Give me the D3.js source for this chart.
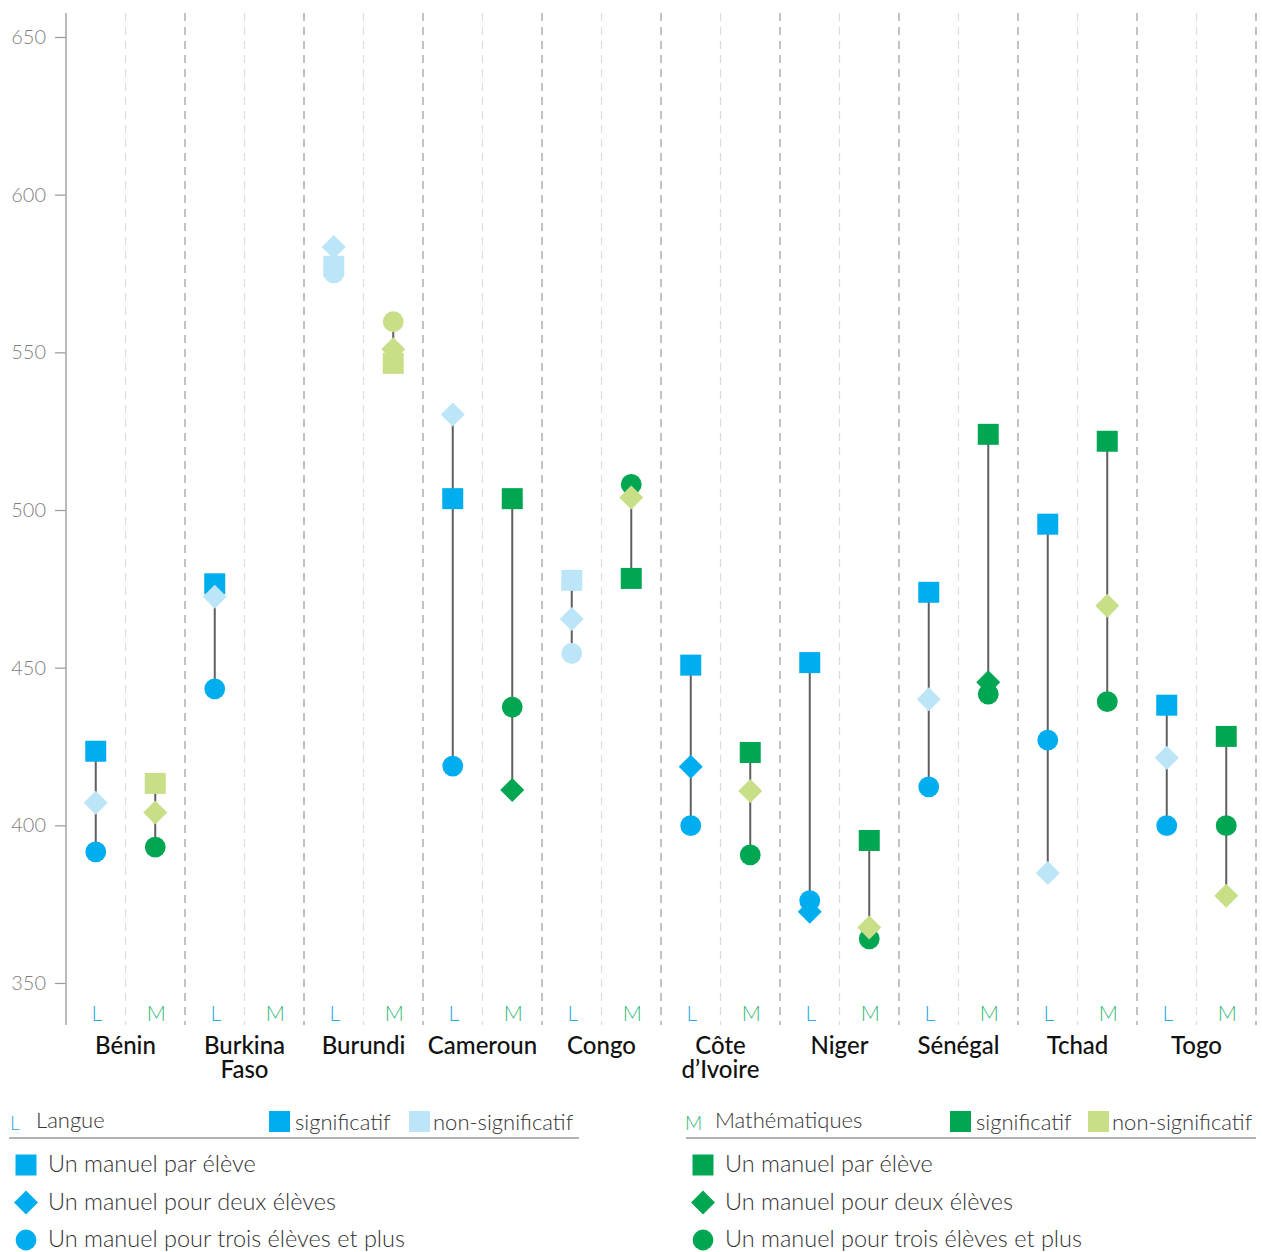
<!DOCTYPE html>
<html>
<head>
<meta charset="utf-8">
<script src="https://cdn.jsdelivr.net/npm/d3@7"></script>
<style>
  body { margin: 0; background: #fff; }
  svg { display: block; font-family: Lato, "Open Sans", sans-serif; }
</style>
</head>
<body>
<div id="chart"></div>
<script>
// Data
const countries = ['Bénin', 'Burkina Faso', 'Burundi', 'Cameroun', 'Congo', 'Côte d’Ivoire', 'Niger', 'Sénégal', 'Tchad', 'Togo'];
const countryLines = [['Bénin'], ['Burkina', 'Faso'], ['Burundi'], ['Cameroun'], ['Congo'], ['Côte', 'd’Ivoire'], ['Niger'], ['Sénégal'], ['Tchad'], ['Togo']];
const yTicks = [350, 400, 450, 500, 550, 600, 650];

// Langue (L): one textbook per pupil / per two / per three or more
const langueUn    = [423.5, 476.6, 577.3, 503.6, 477.7, 450.8, 451.6, 473.9, 495.5, 438.1];
const langueDeux  = [407.2, 472.5, 583.4, 530.3, 465.4, 418.6, 372.6, 440.0, 384.9, 421.4];
const langueTrois = [391.6, 443.3, 575.2, 418.8, 454.5, 399.9, 376.1, 412.2, 427.0, 399.9];
const langueUnSig    = [1, 1, 0, 1, 0, 1, 1, 1, 1, 1];
const langueDeuxSig  = [0, 0, 0, 0, 0, 1, 1, 0, 0, 0];
const langueTroisSig = [1, 1, 0, 1, 0, 1, 1, 1, 1, 1];

// Mathématiques (M)
const mathUn    = [413.3, null, 546.5, 503.6, 478.3, 423.1, 395.2, 524.0, 521.8, 428.2];
const mathDeux  = [404.1, null, 551.0, 411.2, 504.0, 410.9, 367.6, 445.4, 469.6, 377.7];
const mathTrois = [393.1, null, 559.7, 437.5, 508.1, 390.6, 364.0, 441.6, 439.2, 399.9];
const mathUnSig    = [0, 0, 0, 1, 1, 1, 1, 1, 1, 1];
const mathDeuxSig  = [0, 0, 0, 1, 0, 0, 0, 1, 0, 0];
const mathTroisSig = [1, 0, 0, 1, 1, 1, 1, 1, 1, 1];

const legendRows = ['Un manuel par élève', 'Un manuel pour deux élèves', 'Un manuel pour trois élèves et plus'];

const COLORS = {
  L: { sig: '#00aeef', non: '#bde5f8', label: '#29abe2' },
  M: { sig: '#00a651', non: '#c8df88', label: '#2bb673' }
};

const width = 1262, height = 1252;
const svg = d3.select('#chart').append('svg')
  .attr('width', width).attr('height', height);

const x = d3.scaleBand().domain(countries).range([66, 1256]);
const sub = d3.scaleBand().domain(['L', 'M']).range([0, x.bandwidth()]);
const y = d3.scaleLinear().domain([350, 650]).range([983, 37]);
const plotTop = 13, plotBottom = 1025;

// separators
countries.forEach(c => {
  svg.append('line')
    .attr('x1', x(c) + sub.bandwidth()).attr('x2', x(c) + sub.bandwidth())
    .attr('y1', plotTop).attr('y2', plotBottom)
    .attr('stroke', '#dcdcdc').attr('stroke-width', 1.2)
    .attr('stroke-dasharray', '8,6');
  svg.append('line')
    .attr('x1', x(c) + x.bandwidth()).attr('x2', x(c) + x.bandwidth())
    .attr('y1', plotTop).attr('y2', plotBottom)
    .attr('stroke', '#9a9a9a').attr('stroke-width', 1.2)
    .attr('stroke-dasharray', '8,6');
});

// y axis
const yAxis = svg.append('g')
  .attr('transform', 'translate(66,0)')
  .call(d3.axisLeft(y).tickValues(yTicks).tickSize(11).tickPadding(9));
yAxis.select('.domain').remove();
yAxis.selectAll('.tick line').attr('stroke', '#999').attr('stroke-width', 1.2);
yAxis.selectAll('.tick text')
  .attr('fill', '#7f7f7f').style('font-size', '20px').style('font-weight', 300)
  .style('font-family', 'Lato, sans-serif');
svg.append('line')
  .attr('x1', 66).attr('x2', 66).attr('y1', plotTop).attr('y2', plotBottom)
  .attr('stroke', '#aaa').attr('stroke-width', 1.6);

// shapes
const square = s => `M${-s / 2},${-s / 2}h${s}v${s}h${-s}Z`;
const diamond = h => `M0,${-h}L${h},0L0,${h}L${-h},0Z`;
const circle = r => d3.arc()({ innerRadius: 0, outerRadius: r, startAngle: 0, endAngle: 2 * Math.PI });
const shapes = { un: square(21), deux: diamond(12), trois: circle(10.4) };

const columns = [
  { key: 'L', un: langueUn, deux: langueDeux, trois: langueTrois, unSig: langueUnSig, deuxSig: langueDeuxSig, troisSig: langueTroisSig },
  { key: 'M', un: mathUn, deux: mathDeux, trois: mathTrois, unSig: mathUnSig, deuxSig: mathDeuxSig, troisSig: mathTroisSig }
];

const marks = svg.append('g');
countries.forEach((c, i) => {
  columns.forEach(col => {
    const cx = x(c) + sub(col.key) + sub.bandwidth() / 2;
    const vals = [col.un[i], col.deux[i], col.trois[i]].filter(v => v != null);
    if (vals.length) {
      marks.append('line')
        .attr('x1', cx).attr('x2', cx)
        .attr('y1', y(d3.max(vals))).attr('y2', y(d3.min(vals)))
        .attr('stroke', '#5f5f5f').attr('stroke-width', 2);
      ['un', 'trois', 'deux'].forEach(k => {
        const v = col[k][i];
        if (v == null) return;
        marks.append('path')
          .attr('d', shapes[k])
          .attr('transform', `translate(${cx},${y(v)})`)
          .attr('fill', col[k + 'Sig'][i] ? COLORS[col.key].sig : COLORS[col.key].non);
      });
    }
    svg.append('text')
      .attr('x', cx + 1).attr('y', 1021)
      .attr('text-anchor', 'middle')
      .attr('fill', COLORS[col.key].label)
      .style('font-size', '21px').style('font-weight', 300)
      .text(col.key);
  });
  const t = svg.append('text')
    .attr('x', x(c) + x.bandwidth() / 2).attr('y', 1054)
    .attr('text-anchor', 'middle').attr('fill', '#111')
    .style('font-size', '24px').style('font-weight', 500);
  countryLines[i].forEach((ln, j) => {
    t.append('tspan').attr('x', x(c) + x.bandwidth() / 2).attr('dy', j ? 24 : 0).text(ln);
  });
});

// legend
const legends = [
  { key: 'L', title: 'Langue', x0: 9, x1: 579, letterX: 10, titleX: 36, sigX: 269, nonX: 409 },
  { key: 'M', title: 'Mathématiques', x0: 686, x1: 1256, letterX: 685, titleX: 715, sigX: 950, nonX: 1088 }
];
legends.forEach(lg => {
  const g = svg.append('g').style('font-size', '22px').style('font-weight', 300);
  g.append('text').attr('x', lg.letterX).attr('y', 1130)
    .attr('fill', COLORS[lg.key].label).style('font-size', '19px').text(lg.key);
  g.append('text').attr('x', lg.titleX).attr('y', 1128).attr('fill', '#333').text(lg.title);
  g.append('rect').attr('x', lg.sigX).attr('y', 1111).attr('width', 21).attr('height', 21)
    .attr('fill', COLORS[lg.key].sig);
  g.append('text').attr('x', lg.sigX + 26).attr('y', 1130).attr('fill', '#333').text('significatif');
  g.append('rect').attr('x', lg.nonX).attr('y', 1111).attr('width', 21).attr('height', 21)
    .attr('fill', COLORS[lg.key].non);
  g.append('text').attr('x', lg.nonX + 24).attr('y', 1130).attr('fill', '#333').text('non-significatif');
  g.append('line').attr('x1', lg.x0).attr('x2', lg.x1).attr('y1', 1138).attr('y2', 1138)
    .attr('stroke', '#999').attr('stroke-width', 1.5);
  ['un', 'deux', 'trois'].forEach((k, j) => {
    const cy = 1165 + j * 37.5;
    g.append('path').attr('d', shapes[k])
      .attr('transform', `translate(${lg.x0 + 17},${cy})`)
      .attr('fill', COLORS[lg.key].sig);
    g.append('text').attr('x', lg.x0 + 39).attr('y', cy + 7).attr('fill', '#333')
      .style('font-size', '23.5px').text(legendRows[j]);
  });
});
</script>
</body>
</html>
